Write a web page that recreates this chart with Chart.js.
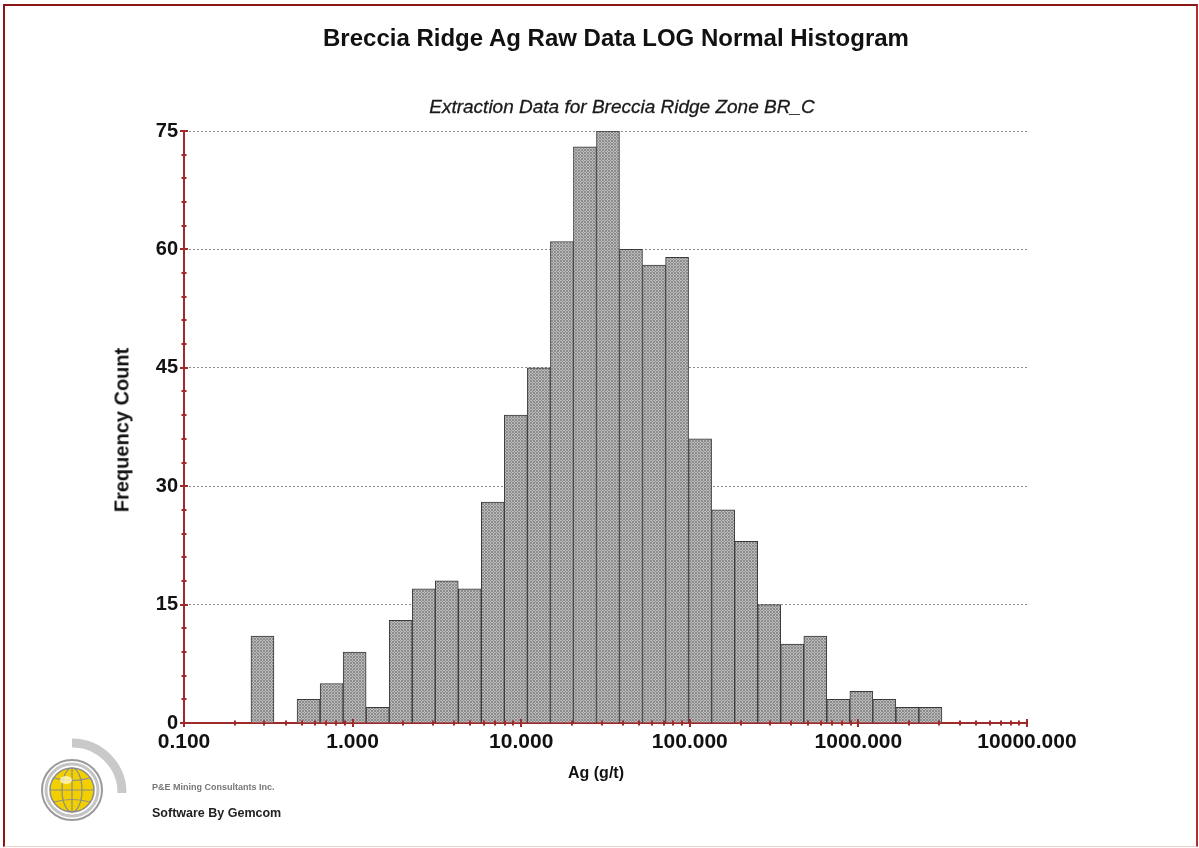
<!DOCTYPE html>
<html>
<head>
<meta charset="utf-8">
<script src="https://cdn.jsdelivr.net/npm/chart.js@4.4.0/dist/chart.umd.min.js"></script>
<style>
  html, body { margin: 0; padding: 0; background: #fff; }
  #wrap { position: relative; width: 1199px; height: 848px; overflow: hidden; font-family: "Liberation Sans", Arial, sans-serif; }
  #frame { position: absolute; left: 3px; top: 4px; width: 1191px; height: 840px;
           border-top: 2px solid #8a1616; border-left: 2px solid #8a1616; border-right: 2px solid #b03030; border-bottom: 1px solid #f2cfc8; }
  canvas { position: absolute; left: 0; top: 0; }
  .t { position: absolute; white-space: nowrap; color: #111; }
  #title { left: 616px; top: 24px; transform: translateX(-50%); font-size: 24px; font-weight: bold; }
  #subtitle { left: 622px; top: 96px; transform: translateX(-50%); font-size: 19px; font-style: italic; color: #1a1a1a; -webkit-text-stroke: 0.3px #1a1a1a; }
  #ytitle { left: 122px; top: 430px; transform: translate(-50%, -50%) rotate(-90deg); font-size: 20px; font-weight: bold; }
  #xtitle { left: 596px; top: 764px; transform: translateX(-50%); font-size: 16px; font-weight: bold; }
  #co { left: 152px; top: 782px; font-size: 9px; font-weight: bold; color: #777; }
  #sw { left: 152px; top: 806px; font-size: 12.5px; font-weight: bold; color: #222; }
  #logo { position: absolute; left: 30px; top: 734px; }
</style>
</head>
<body>
<div id="wrap">
  <div id="frame"></div>
  <canvas id="c" width="1199" height="848"></canvas>
  <div class="t" id="title">Breccia Ridge Ag Raw Data LOG Normal Histogram</div>
  <div class="t" id="subtitle">Extraction Data for Breccia Ridge Zone BR_C</div>
  <div class="t" id="ytitle">Frequency Count</div>
  <div class="t" id="xtitle">Ag (g/t)</div>
  <svg id="logo" width="130" height="100" viewBox="0 0 130 100">
    <path d="M 42 9 A 50 50 0 0 1 92 59" fill="none" stroke="#c9c9c9" stroke-width="9"/>
    <circle cx="42" cy="56" r="30" fill="#fff" stroke="#9a9a9a" stroke-width="2"/>
    <circle cx="42" cy="56" r="26" fill="none" stroke="#c4c4c4" stroke-width="3"/>
    <circle cx="42" cy="56" r="22" fill="#f2d000" stroke="#8c8c8c" stroke-width="1.5"/>
    <ellipse cx="42" cy="56" rx="10" ry="22" fill="none" stroke="#8c8c8c" stroke-width="1.2"/>
    <line x1="42" y1="34" x2="42" y2="78" stroke="#8c8c8c" stroke-width="1.2"/>
    <line x1="20" y1="56" x2="64" y2="56" stroke="#8c8c8c" stroke-width="1.2"/>
    <path d="M 24 44 Q 42 49 60 44" fill="none" stroke="#8c8c8c" stroke-width="1.2"/>
    <path d="M 24 68 Q 42 63 60 68" fill="none" stroke="#8c8c8c" stroke-width="1.2"/>
    <ellipse cx="36" cy="46" rx="6" ry="4" fill="#fff8c0" opacity="0.8"/>
  </svg>
  <div class="t" id="co">P&amp;E Mining Consultants Inc.</div>
  <div class="t" id="sw">Software By Gemcom</div>
</div>
<script>
// ---- data ----
const binCenters = [0.292, 0.400, 0.548, 0.751, 1.028, 1.408, 1.929, 2.642, 3.618, 4.956,
                    6.787, 9.296, 12.73, 17.44, 23.88, 32.71, 44.80, 61.37, 84.05, 115.1,
                    157.7, 215.9, 295.8, 405.1, 554.9, 760.0, 1041, 1425, 1952, 2674];
const frequency = [11, 0, 3, 5, 9, 2, 13, 17, 18, 17,
                   28, 39, 45, 61, 73, 75, 60, 58, 59, 36,
                   27, 23, 15, 10, 11, 3, 4, 3, 2, 2];
const xTickValues = [0.1, 1, 10, 100, 1000, 10000];
const yTickValues = [0, 15, 30, 45, 60, 75];

// ---- styles ----
const AXIS = '#9e2a2b';
function makePattern() {
  const p = document.createElement('canvas');
  p.width = 3; p.height = 3;
  const g = p.getContext('2d');
  g.fillStyle = '#e2e2e2'; g.fillRect(0, 0, 3, 3);
  g.fillStyle = '#8c8c8c';
  g.fillRect(0, 0, 1, 1); g.fillRect(2, 0, 1, 1);
  g.fillRect(1, 1, 1, 1);
  g.fillRect(0, 2, 1, 1); g.fillRect(2, 2, 1, 1);
  g.fillStyle = '#bcbcbc';
  g.fillRect(1, 0, 1, 1); g.fillRect(0, 1, 1, 1); g.fillRect(2, 1, 1, 1); g.fillRect(1, 2, 1, 1);
  return document.getElementById('c').getContext('2d').createPattern(p, 'repeat');
}

const minorTicks = {
  id: 'minorTicks',
  afterDraw(chart) {
    const ctx = chart.ctx, xs = chart.scales.x, ys = chart.scales.y;
    const y0 = chart.chartArea.bottom, x0 = chart.chartArea.left;
    ctx.save();
    ctx.strokeStyle = AXIS; ctx.lineWidth = 2;
    for (let d = 0.1; d < 10000; d *= 10) {
      for (let m = 1; m <= 10; m++) {
        const px = Math.round(xs.getPixelForValue(d * m));
        const len = (m === 1 || m === 10) ? 4 : 2.5;
        ctx.beginPath(); ctx.moveTo(px, y0 - len); ctx.lineTo(px, y0 + len); ctx.stroke();
      }
    }
    for (let v = 0; v <= 75; v += 3) {
      const py = Math.round(ys.getPixelForValue(v));
      const len = (v % 15 === 0) ? 4 : 2.5;
      ctx.beginPath(); ctx.moveTo(x0 - len, py); ctx.lineTo(x0 + len, py); ctx.stroke();
    }
    ctx.restore();
  }
};

const chart = new Chart(document.getElementById('c'), {
  type: 'bar',
  data: {
    datasets: [{
      data: binCenters.map((c, i) => ({ x: c, y: frequency[i] })),
      backgroundColor: makePattern(),
      borderColor: '#3a3a3a',
      borderWidth: 1,
      borderSkipped: 'bottom',
      barPercentage: 1.0,
      categoryPercentage: 1.0
    }]
  },
  options: {
    responsive: false,
    animation: false,
    layout: { padding: { left: 0, top: 131, right: 172, bottom: 0 } },
    plugins: { legend: { display: false }, tooltip: { enabled: false }, title: { display: false } },
    scales: {
      x: {
        type: 'logarithmic',
        min: 0.1, max: 10000,
        offset: false,
        afterFit(s) { s.height = 125; },
        afterBuildTicks(s) { s.ticks = xTickValues.map(v => ({ value: v, major: true })); },
        grid: { display: false, drawTicks: false },
        border: { display: true, color: AXIS, width: 2 },
        ticks: {
          autoSkip: false, maxRotation: 0, padding: 7,
          color: '#111',
          font: { family: 'Liberation Sans', size: 21, weight: 'bold' },
          callback: v => Number(v).toFixed(3)
        }
      },
      y: {
        type: 'linear',
        min: 0, max: 75,
        afterFit(s) { s.width = 184; },
        afterBuildTicks(s) { s.ticks = yTickValues.map(v => ({ value: v })); },
        grid: {
          drawTicks: false,
          color: ctx => ctx.tick && ctx.tick.value === 0 ? 'rgba(0,0,0,0)' : '#8c8c8c',
          lineWidth: 1
        },
        border: { display: true, color: AXIS, width: 2, dash: [2, 2] },
        ticks: {
          padding: 6,
          color: '#111',
          font: { family: 'Liberation Sans', size: 20, weight: 'bold' }
        }
      }
    }
  },
  plugins: [minorTicks]
});
</script>
</body>
</html>
